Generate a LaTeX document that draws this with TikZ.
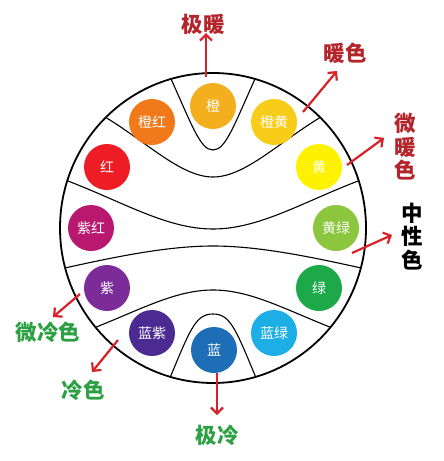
\documentclass[tikz,border=0pt]{standalone}
\usepackage{fontspec}
\newfontfamily\cjk{Noto Sans CJK SC}
\usetikzlibrary{arrows.meta}
\definecolor{cOrange}{HTML}{F4AF1E}
\definecolor{cOrangeRed}{HTML}{F07A1A}
\definecolor{cOrangeYellow}{HTML}{F8CD1A}
\definecolor{cRed}{HTML}{EE1C24}
\definecolor{cYellow}{HTML}{FFF200}
\definecolor{cPurpleRed}{HTML}{B8196E}
\definecolor{cYellowGreen}{HTML}{8CC63E}
\definecolor{cPurple}{HTML}{7B2C99}
\definecolor{cGreen}{HTML}{1DA94A}
\definecolor{cBluePurple}{HTML}{4B2A91}
\definecolor{cBlueGreen}{HTML}{1EAEE6}
\definecolor{cBlue}{HTML}{1D6DB7}
\definecolor{arrowred}{HTML}{D8222A}
\definecolor{warmred}{HTML}{B4242B}
\definecolor{coolgreen}{HTML}{2DA043}
\begin{document}
\begin{tikzpicture}[x=1pt,y=-1pt,
  swatch/.style={circle,minimum size=46pt,inner sep=0pt,fill=#1,text=white,font=\cjk\fontsize{14}{14}\selectfont},
  divider/.style={line width=1.1pt},
  rim/.style={line width=1.8pt},
  pointer/.style={draw=arrowred,line width=2.2pt,-{Straight Barb[length=6pt,width=12pt]}},
  tag/.style={font=\cjk\bfseries\fontsize{21.5}{23.5}\selectfont,align=center,inner sep=0pt},
  warmtag/.style={tag,text=warmred},
  cooltag/.style={tag,text=coolgreen},
  neutraltag/.style={tag,text=black}]
\fill[white] (0,0) rectangle (444,461);
\useasboundingbox (0,0) rectangle (444,461);

% dividers clipped to the disc
\begin{scope}
  \clip (213,228) ellipse [x radius=153pt, y radius=155pt];
  \draw[divider] (167,70) .. controls (192,125) and (200,150) .. (213,150)
                          .. controls (226,150) and (234,125) .. (259,70);
  \draw[divider] (100,114) .. controls (145,140) and (180,177) .. (213,177)
                           .. controls (246,177) and (281,140) .. (326,114);
  \draw[divider] (60,178) .. controls (120,200) and (165,229) .. (213,229)
                          .. controls (261,229) and (306,200) .. (366,178);
  \draw[divider] (58,269.5) .. controls (110,258) and (165,246) .. (213,246)
                            .. controls (261,246) and (316,258) .. (368,269.5);
  \draw[divider] (90,329.5) .. controls (140,310) and (175,290) .. (213,290)
                            .. controls (251,290) and (286,310) .. (336,329.5);
  \draw[divider] (167,385) .. controls (190,330) and (195,314) .. (213,314)
                           .. controls (231,314) and (236,330) .. (259,385);
\end{scope}
\draw[rim] (213,228) ellipse [x radius=153pt, y radius=155pt];

% colour swatches
\node[swatch=cOrange]       (orange)  at (213,106) {橙};
\node[swatch=cOrangeRed]    (ored)    at (152,122) {橙红};
\node[swatch=cOrangeYellow] (oyellow) at (274,122) {橙黄};
\node[swatch=cRed]          (red)     at (107,167) {红};
\node[swatch=cYellow]       (yellow)  at (319,167) {黄};
\node[swatch=cPurpleRed]    (pred)    at (91,228)  {紫红};
\node[swatch=cYellowGreen]  (ygreen)  at (336,228) {黄绿};
\node[swatch=cPurple]       (purple)  at (107,288) {紫};
\node[swatch=cGreen]        (green)   at (319,288) {绿};
\node[swatch=cBluePurple]   (bpurple) at (152,333) {蓝紫};
\node[swatch=cBlueGreen]    (bgreen)  at (274,333) {蓝绿};
\node[swatch=cBlue]         (blue)    at (214,350) {蓝};

% labels
\node[warmtag] (hot)     at (203,24)  {极暖};
\node[warmtag] (warm)    at (345,53)  {暖色};
\node[warmtag] (mwarm)   at (405,147) {微\\暖\\色};
\node[neutraltag] (neutral) at (412,236.5) {中\\性\\色};
\node[cooltag] (mcool)   at (48,332)  {微冷色};
\node[cooltag] (cool)    at (83,390)  {冷色};
\node[cooltag] (cold)    at (217,435) {极冷};

% arrows
\coordinate (s1) at (206,77);    \coordinate (t1) at (206,33);
\coordinate (s2) at (303,112);   \coordinate (t2) at (337,71);
\coordinate (s3) at (347,165);   \coordinate (t3) at (384,138);
\coordinate (s4) at (352,253);   \coordinate (t4) at (392,235);
\coordinate (s5) at (80,294);    \coordinate (t5) at (53,317);
\coordinate (s6) at (118,340);   \coordinate (t6) at (92,372);
\coordinate (s7) at (217,373);   \coordinate (t7) at (217,415);
\draw[pointer] (s1) -- (t1);
\draw[pointer] (s2) -- (t2);
\draw[pointer] (s3) -- (t3);
\draw[pointer] (s4) -- (t4);
\draw[pointer] (s5) -- (t5);
\draw[pointer] (s6) -- (t6);
\draw[pointer] (s7) -- (t7);
\end{tikzpicture}
\end{document}
